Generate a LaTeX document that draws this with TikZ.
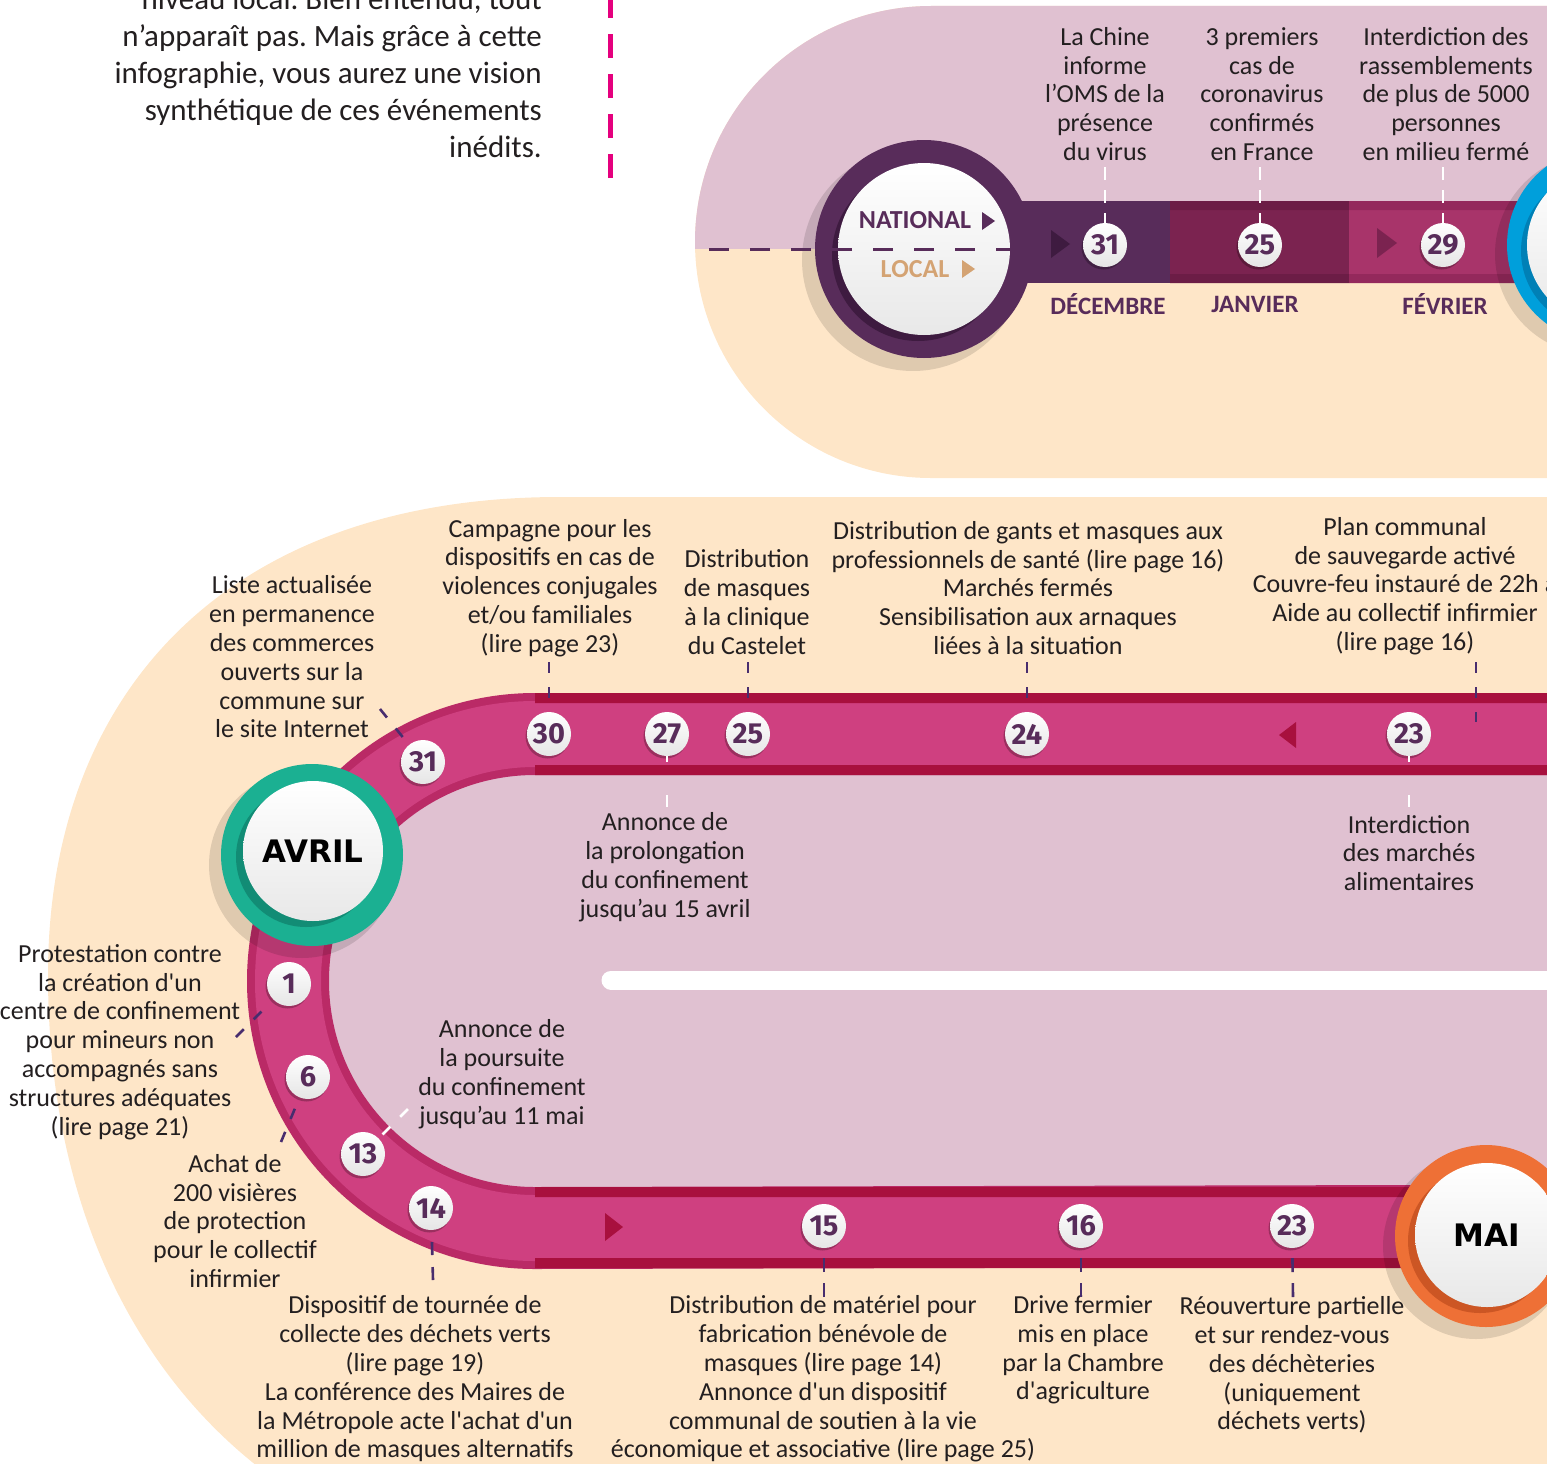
\documentclass[tikz,border=0pt]{standalone}
\usepackage{fontspec}
\setmainfont{Carlito}
\newfontfamily\numfont{Fira Sans}
\newfontfamily\heavyfont{DejaVu Sans}
\usetikzlibrary{shadows}
\frenchspacing

\definecolor{ink}{RGB}{35,31,32}
\definecolor{lilac}{RGB}{224,193,209}
\definecolor{peach}{RGB}{254,230,200}
\definecolor{plum}{RGB}{88,44,90}
\definecolor{plumdark}{RGB}{62,27,64}
\definecolor{wine}{RGB}{123,35,80}
\definecolor{winedark}{RGB}{108,29,70}
\definecolor{berry}{RGB}{168,52,106}
\definecolor{berrydark}{RGB}{148,41,92}
\definecolor{ribbonmain}{RGB}{207,64,128}
\definecolor{ribbonrim}{RGB}{186,42,102}
\definecolor{ribbonedge}{RGB}{168,16,62}
\definecolor{avrilteal}{RGB}{27,176,146}
\definecolor{avrildark}{RGB}{18,140,117}
\definecolor{sky}{RGB}{0,159,219}
\definecolor{skydark}{RGB}{0,128,182}
\definecolor{maiorange}{RGB}{238,112,54}
\definecolor{maidark}{RGB}{204,86,36}
\definecolor{localtan}{RGB}{212,163,115}
\definecolor{lnk}{RGB}{72,45,110}
\definecolor{hotpink}{RGB}{229,0,126}

\begin{document}
\begin{tikzpicture}[x=1pt,y=-1pt,
  txt/.style={align=center,inner sep=0pt,text=ink,font=\fontsize{26}{28.8}\selectfont},
  day/.style={circle,minimum size=44pt,inner sep=0pt,top color=white,bottom color=black!10,
    text=plum,font=\numfont\bfseries\fontsize{29}{29}\selectfont,
    drop shadow={shadow xshift=-1.5pt,shadow yshift=-2.5pt,opacity=.25,fill=black}},
  month/.style={inner sep=0pt,text=plum,font=\bfseries\fontsize{25}{25}\selectfont},
  big/.style={circle,inner sep=0pt,top color=white,bottom color=black!9,text=black,
    font=\heavyfont\bfseries\fontsize{31}{31}\selectfont},
  tick/.style={draw=lnk,line width=2.6pt,dash pattern=on 11pt off 14pt},
  wtick/.style={draw=white,line width=2.6pt,dash pattern=on 13pt off 10pt}]
\useasboundingbox (0,0) rectangle (1547,1464);
\clip (0,0) rectangle (1547,1464);

% Intro text
\node[anchor=east,align=right,inner sep=0pt,text=ink,font=\fontsize{31}{37}\selectfont] (intro) at (542,73)
  {niveau local. Bien entendu, tout\\n’apparaît pas. Mais grâce à cette\\infographie, vous aurez une vision\\synthétique de ces événements\\inédits.};
\coordinate (pinkA) at (610,178);
\coordinate (pinkB) at (610,-10);
\draw[hotpink,line width=5pt,dash pattern=on 24pt off 16pt] (pinkA) -- (pinkB);

% National timeline background
\fill[peach] (1560,6) -- (931,6) arc[start angle=270,end angle=90,radius=236] -- (1560,478) -- cycle;
\begin{scope}
  \clip (1560,6) -- (931,6) arc[start angle=270,end angle=90,radius=236] -- (1560,478) -- cycle;
  \fill[lilac] (680,0) rectangle (1560,249);
\end{scope}

% Month band
\fill[plum] (1000,201) rectangle (1170,283);
\fill[wine] (1170,201) rectangle (1349,283);
\fill[winedark] (1170,201) rectangle (1349,210) (1170,274) rectangle (1349,283);
\fill[berry] (1349,201) rectangle (1560,283);
\fill[berrydark] (1349,201) rectangle (1560,210) (1349,274) rectangle (1560,283);
\fill[plumdark] (1051,230) -- (1070,244) -- (1051,258) -- cycle;
\fill[wine] (1377,228) -- (1397,243) -- (1377,258) -- cycle;

% Blue circle (cut at the edge)
\fill[black,opacity=.12] (1596,254) circle[radius=101];
\node[circle,fill=sky,minimum size=196pt,inner sep=0pt] (marsring) at (1605,245) {};
\fill[skydark] (1599,251) circle[radius=78];
\node[big,minimum size=156pt] (mars) at (1605,245) {};

% National / local circle
\fill[black,opacity=.12] (913,260) circle[radius=111];
\node[circle,fill=plum,minimum size=218pt,inner sep=0pt] (natring) at (924,249) {};
\fill[plumdark] (918,255) circle[radius=86];
\node[big,minimum size=172pt] (natdisc) at (924,249) {};
\coordinate (divA) at (1016,249);
\coordinate (divB) at (695,249);
\draw[plum,line width=3pt,dash pattern=on 20pt off 21pt] (divA) -- (divB);
\node[month,font=\bfseries\fontsize{26}{26}\selectfont] (national) at (915,220) {NATIONAL};
\fill[plum] (982,212) -- (995,221) -- (982,230) -- cycle;
\node[month,text=localtan,font=\bfseries\fontsize{26}{26}\selectfont] (local) at (915,269) {LOCAL};
\fill[localtan] (962,260) -- (975,269) -- (962,278) -- cycle;

% National days
\node[day] (d31) at (1105,245) {31};
\node[day] (d25) at (1260,245) {25};
\node[day] (d29) at (1443,245) {29};
\node[month] (dec) at (1108,304) {DÉCEMBRE};
\node[month] (jan) at (1255,304) {JANVIER};
\node[month] (fev) at (1445,304) {FÉVRIER};

\node[txt] (tchine) at (1105,94) {La Chine\\informe\\l’OMS de la\\présence\\du virus};
\node[txt] (tcas) at (1262,94) {3 premiers\\cas de\\coronavirus\\confirmés\\en France};
\node[txt] (trass) at (1446,94) {Interdiction des\\rassemblements\\de plus de 5000\\personnes\\en milieu fermé};
\coordinate (w31) at (1105,167);
\coordinate (w25) at (1260,167);
\coordinate (w29) at (1443,167);
\draw[wtick] (w31) -- (d31);
\draw[wtick] (w25) -- (d25);
\draw[wtick] (w29) -- (d29);

% Local timeline background
\fill[peach] (1560,497) -- (560,497) .. controls (230,497) and (48,690) .. (48,975)
  .. controls (48,1210) and (140,1390) .. (290,1490) -- (1560,1490) -- cycle;
\fill[lilac] (1560,734) -- (535,734) arc[start angle=270,end angle=90,radius=247] -- (1560,1226) -- cycle;
\coordinate (lineA) at (611,980);
\coordinate (lineB) at (1560,980);
\draw[white,line width=19pt,line cap=round] (lineA) -- (lineB);

% Ribbon
\draw[ribbonrim,line width=82pt] (1560,734) -- (535,734) arc[start angle=270,end angle=90,radius=247] -- (1420,1226);
\draw[ribbonmain,line width=66pt] (1560,734) -- (535,734) arc[start angle=270,end angle=90,radius=247] -- (1420,1226);
\fill[ribbonedge] (535,693) rectangle (1560,703) (535,765) rectangle (1560,775)
  (535,1187) rectangle (1420,1197) (535,1258) rectangle (1420,1268);
\fill[ribbonedge] (1296,722) -- (1279,735) -- (1296,748) -- cycle;
\fill[ribbonedge] (605,1213) -- (623,1227) -- (605,1241) -- cycle;

% AVRIL
\fill[black,opacity=.12] (302,865) circle[radius=93];
\node[circle,fill=avrilteal,minimum size=182pt,inner sep=0pt] (avrilring) at (312,855) {};
\fill[avrildark] (306,857) circle[radius=70];
\node[big,minimum size=140pt] (avril) at (313,851) {AVRIL};

% MAI
\fill[black,opacity=.12] (1476,1246) circle[radius=93];
\node[circle,fill=maiorange,minimum size=182pt,inner sep=0pt] (mairing) at (1486,1236) {};
\fill[maidark] (1480,1241) circle[radius=72];
\node[big,minimum size=144pt] (mai) at (1487,1235) {MAI};

% Local days
\node[day] (n31) at (423,762) {31};
\node[day] (n30) at (549,734) {30};
\node[day] (n27) at (667,734) {27};
\node[day] (n25) at (748,734) {25};
\node[day] (n24) at (1027,734) {24};
\node[day] (n23a) at (1409,734) {23};
\node[day] (n1) at (289,984) {1};
\node[day] (n6) at (308,1077) {6};
\node[day] (n13) at (363,1154) {13};
\node[day] (n14) at (431,1208) {14};
\node[day] (n15) at (824,1226) {15};
\node[day] (n16) at (1081,1226) {16};
\node[day] (n23b) at (1292,1226) {23};

% Local events
\node[txt] (tliste) at (292,657) {Liste actualisée\\en permanence\\des commerces\\ouverts sur la\\commune sur\\le site Internet};
\node[txt] (tcamp) at (550,588) {Campagne pour les\\dispositifs en cas de\\violences conjugales\\et/ou familiales\\(lire page 23)};
\node[txt] (tcast) at (747,602) {Distribution\\de masques\\à la clinique\\du Castelet};
\node[txt] (tgants) at (1028,588) {Distribution de gants et masques aux\\professionnels de santé (lire page 16)\\Marchés fermés\\Sensibilisation aux arnaques\\liées à la situation};
\node[txt] (tplan) at (1405,586) {Plan communal\\de sauvegarde activé\\Couvre-feu instauré de 22h à\\Aide au collectif infirmier\\(lire page 16)};
\node[txt] (tprolong) at (665,867) {Annonce de\\la prolongation\\du confinement\\jusqu’au 15 avril};
\node[txt] (tmarches) at (1409,853) {Interdiction\\des marchés\\alimentaires};
\node[txt] (tprotest) at (120,1042) {Protestation contre\\la création d\textquotesingle{}un\\centre de confinement\\pour mineurs non\\accompagnés sans\\structures adéquates\\(lire page 21)};
\node[txt] (tachat) at (235,1221) {Achat de\\200 visières\\de protection\\pour le collectif\\infirmier};
\node[txt] (tpours) at (502,1074) {Annonce de\\la poursuite\\du confinement\\jusqu’au 11 mai};
\node[txt] (ttournee) at (415,1379) {Dispositif de tournée de\\collecte des déchets verts\\(lire page 19)\\La conférence des Maires de\\la Métropole acte l\textquotesingle{}achat d\textquotesingle{}un\\million de masques alternatifs};
\node[txt] (tmat) at (823,1379) {Distribution de matériel pour\\fabrication bénévole de\\masques (lire page 14)\\Annonce d\textquotesingle{}un dispositif\\communal de soutien à la vie\\économique et associative (lire page 25)};
\node[txt] (tdrive) at (1083,1350) {Drive fermier\\mis en place\\par la Chambre\\d\textquotesingle{}agriculture};
\node[txt] (treouv) at (1292,1365) {Réouverture partielle\\et sur rendez-vous\\des déchèteries\\(uniquement\\déchets verts)};

% Ticks
\coordinate (k31) at (380,709);
\coordinate (k30) at (549,662);
\coordinate (k25) at (748,662);
\coordinate (k24) at (1027,662);
\coordinate (k23a) at (1476,662);
\coordinate (k23b) at (1476,722);
\coordinate (k27) at (667,807);
\coordinate (k23c) at (1409,807);
\coordinate (k1) at (236,1037);
\coordinate (k6) at (281,1142);
\coordinate (k13) at (408,1109);
\coordinate (k14) at (433,1280);
\coordinate (k15) at (824,1297);
\coordinate (k16) at (1081,1297);
\coordinate (k23d) at (1293,1297);
\draw[tick] (k31) -- (n31);
\draw[tick] (k30) -- (n30);
\draw[tick] (k25) -- (n25);
\draw[tick] (k24) -- (n24);
\draw[tick] (k23a) -- (k23b);
\draw[wtick,dash pattern=on 12pt off 33pt] (k27) -- (n27);
\draw[wtick,dash pattern=on 12pt off 33pt] (k23c) -- (n23a);
\draw[tick,shorten >=12pt] (k1) -- (n1);
\draw[tick,shorten >=12pt] (k6) -- (n6);
\draw[wtick,dash pattern=on 11pt off 14pt] (k13) -- (n13);
\draw[tick,dash pattern=on 13pt off 12pt] (k14) -- (n14);
\draw[tick,dash pattern=on 14pt off 11pt] (k15) -- (n15);
\draw[tick,dash pattern=on 14pt off 11pt] (k16) -- (n16);
\draw[tick,dash pattern=on 14pt off 11pt] (k23d) -- (n23b);
\end{tikzpicture}
\end{document}
